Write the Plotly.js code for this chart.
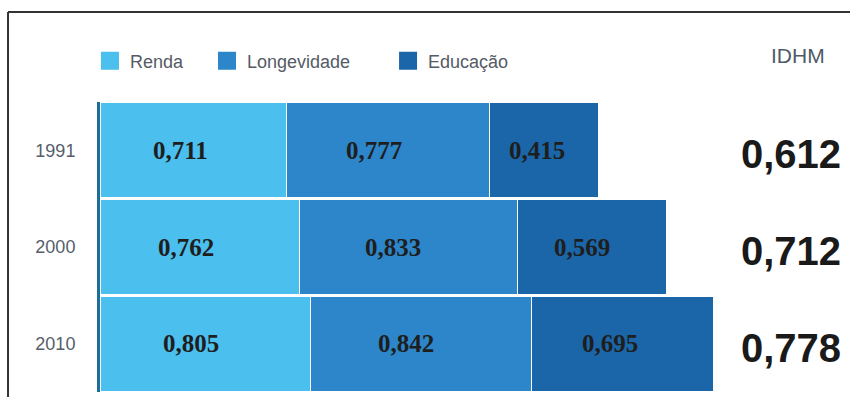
<!DOCTYPE html>
<html>
<head>
<meta charset="utf-8">
<script src="https://cdn.plot.ly/plotly-3.0.1.min.js"></script>
<style>html,body{margin:0;padding:0;background:#fff;}#chart{width:850px;height:397px;}</style>
</head>
<body>
<div id="chart"></div>
<script>
var years = ['1991', '2000', '2010'];
var renda = [0.711, 0.762, 0.805];
var longevidade = [0.777, 0.833, 0.842];
var educacao = [0.415, 0.569, 0.695];
var idhm = [0.612, 0.712, 0.778];
var seriesNames = ['Renda', 'Longevidade', 'Educação'];
var seriesColors = ['#4bbfee', '#2c86c9', '#1a66a8'];

function fmt(v) { return v.toFixed(3).replace('.', ','); }

var series = [renda, longevidade, educacao];
var legendIds = ['legend', 'legend2', 'legend3'];
var traces = series.map(function (vals, i) {
  return {
    type: 'bar',
    orientation: 'h',
    name: seriesNames[i],
    y: years,
    x: vals,
    marker: { color: seriesColors[i], line: { color: '#ffffff', width: 1 } },
    legend: legendIds[i],
    hoverinfo: 'none'
  };
});

var nY = years.length;
function rowPaper(j) { return 1 - (j + 0.5) / nY; }

var annotations = [];
years.forEach(function (yr, j) {
  var base = 0;
  series.forEach(function (vals, i) {
    annotations.push({
      x: base + vals[j] * 0.43, y: rowPaper(j), xref: 'x', yref: 'paper', yanchor: 'middle',
      text: '<b>' + fmt(vals[j]) + '</b>', showarrow: false,
      font: { family: 'Liberation Serif, Times New Roman, serif', size: 25, color: '#1e1e1e' }
    });
    base += vals[j];
  });
  annotations.push({
    x: 1, y: rowPaper(j), xref: 'paper', yref: 'paper', xanchor: 'right', yanchor: 'middle',
    yshift: -4,
    text: '<b>' + fmt(idhm[j]) + '</b>', showarrow: false,
    font: { family: 'Liberation Sans, Arial, sans-serif', size: 40, color: '#1a1a1a' }
  });
});
annotations.push({
  x: 0.94, y: 1.162, xref: 'paper', yref: 'paper', xanchor: 'center', yanchor: 'middle', showarrow: false,
  text: 'IDHM',
  font: { family: 'Liberation Sans, Arial, sans-serif', size: 21, color: '#4f5a66' }
});

function legendAt(xp) {
  return {
    x: xp, y: 1.141, xref: 'paper', yref: 'paper', xanchor: 'left', yanchor: 'middle',
    orientation: 'h', bgcolor: 'rgba(0,0,0,0)',
    font: { family: 'Liberation Sans, Arial, sans-serif', size: 18, color: '#555b66' }
  };
}

var layout = {
  width: 850, height: 397,
  margin: { l: 100, r: 7, t: 102, b: 5 },
  paper_bgcolor: '#ffffff', plot_bgcolor: '#ffffff',
  barmode: 'stack', bargap: 0.015,
  showlegend: true,
  legend: legendAt(-0.0135),
  legend2: legendAt(0.144),
  legend3: legendAt(0.3877),
  xaxis: { visible: false, range: [0, 2.836], fixedrange: true },
  yaxis: {
    type: 'category', categoryorder: 'array', categoryarray: years.slice().reverse(),
    range: [-0.5, 2.5],
    showline: true, linecolor: '#1d6e94', linewidth: 3,
    showgrid: false, zeroline: false, ticks: '',
    ticklabelstandoff: 18,
    tickfont: { family: 'Liberation Sans, Arial, sans-serif', size: 18, color: '#555e6a' }
  },
  annotations: annotations,
  shapes: [
    { type: 'line', xref: 'paper', yref: 'paper', x0: -0.1238, x1: 1.02, y0: 1.3103, y1: 1.3103,
      line: { color: '#333333', width: 2 } },
    { type: 'line', xref: 'paper', yref: 'paper', x0: -0.1238, x1: -0.1238, y0: 1.3103, y1: -0.05,
      line: { color: '#333333', width: 2 } }
  ]
};

Plotly.newPlot('chart', traces, layout, { displayModeBar: false, staticPlot: true }).then(function (gd) {
  gd.querySelectorAll('.legendpoints path').forEach(function (p) {
    var bb = p.getBBox();
    var cx = bb.x + bb.width / 2, cy = bb.y + bb.height / 2;
    var s = 18 / Math.max(bb.width, bb.height);
    var prev = p.getAttribute('transform') || '';
    p.setAttribute('transform', prev + ' translate(' + cx + ',' + cy + ') scale(' + s + ') translate(' + (-cx) + ',' + (-cy) + ')');
    p.style.strokeWidth = '0';
  });
});
</script>
</body>
</html>
